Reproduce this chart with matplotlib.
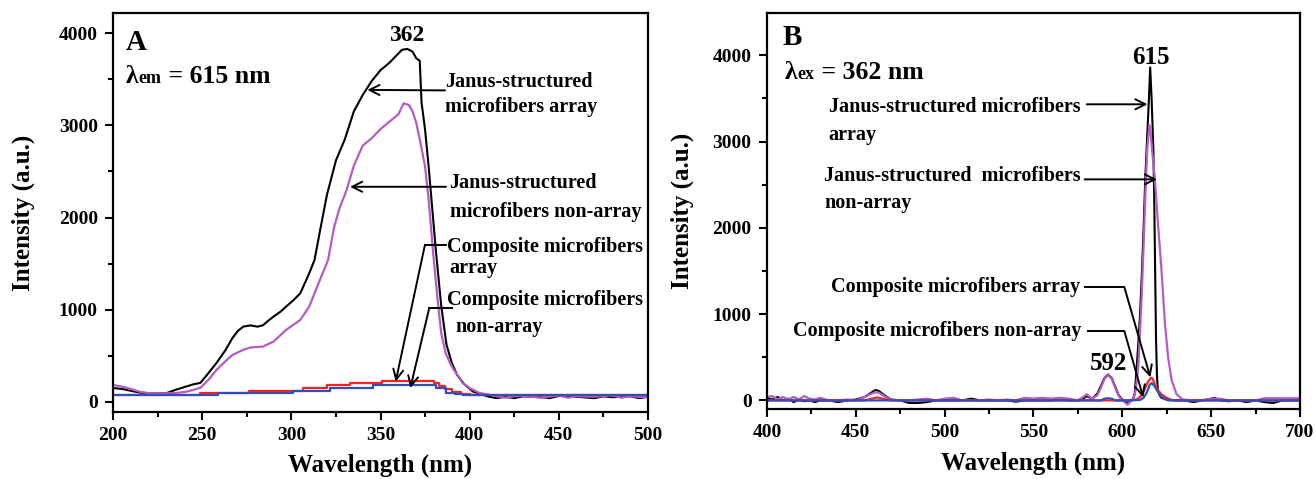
import matplotlib
matplotlib.use("Agg")
import matplotlib.pyplot as plt
from matplotlib.offsetbox import TextArea, HPacker, AnchoredOffsetbox
from matplotlib.ticker import MultipleLocator

# ---------------- Panel A data (excitation, lambda_em = 615 nm) ----------------
a_janus_arr_x = [200, 205, 210, 215, 220, 225, 230, 235, 240, 245, 249, 253, 258, 263, 267, 270, 273,
                 277, 281, 284, 287, 290, 294, 297, 301, 305, 310, 313, 316, 320, 325, 330, 335, 340,
                 345, 350, 355, 360, 362, 365, 368, 370, 372, 373, 375, 377, 379, 381, 384, 387, 390,
                 393, 397, 402, 410, 415, 420, 425, 430, 440, 445, 450, 460, 470, 475, 480, 490, 495, 500]
a_janus_arr_y = [150, 140, 120, 100, 92, 92, 95, 130, 160, 190, 206, 300, 422, 560, 694, 770, 816,
                 830, 816, 830, 880, 925, 980, 1033, 1100, 1178, 1394, 1540, 1850, 2250, 2620, 2850,
                 3150, 3330, 3480, 3600, 3680, 3780, 3820, 3830, 3800, 3730, 3700, 3250, 2950, 2550,
                 2100, 1650, 1050, 620, 420, 290, 190, 110, 60, 40, 55, 40, 60, 50, 40, 65, 55, 40,
                 60, 50, 60, 40, 55]

a_janus_non_x = [200, 205, 210, 215, 220, 225, 230, 235, 241, 245, 249, 254, 258, 263, 267, 273, 277,
                 281, 284, 290, 297, 305, 310, 316, 320.6, 324, 327, 331, 335, 340, 345, 350, 355, 360,
                 363, 366, 368, 370, 372, 375, 377, 379.5, 382, 384, 386.5, 389, 391, 393.5, 396, 400,
                 405, 410, 420, 425, 430, 440, 450, 455, 460, 470, 480, 485, 490, 500]
a_janus_non_y = [184, 165, 140, 110, 95, 92, 93, 95, 110, 130, 152, 250, 347, 440, 510, 564, 590,
                 596, 600, 654, 780, 889, 1033, 1322, 1540, 1900, 2100, 2300, 2560, 2780, 2860, 2960,
                 3040, 3120, 3240, 3220, 3150, 3030, 2850, 2550, 2190, 1620, 1110, 750, 530, 420, 350,
                 280, 205, 150, 100, 80, 45, 60, 65, 45, 70, 45, 60, 55, 70, 45, 60, 50]

a_comp_arr_x = [200, 249, 276, 306.5, 320, 333, 351, 380, 383, 386, 390, 395, 400, 500]
a_comp_arr_y = [75, 94, 119, 152, 180, 206, 228, 200, 170, 140, 105, 80, 72, 72]

a_comp_non_x = [200, 259, 301, 321.7, 345.8, 381, 387, 392, 396, 500]
a_comp_non_y = [75, 94, 119, 152, 184, 150, 100, 80, 72, 72]

# ---------------- Panel B data (emission, lambda_ex = 362 nm) ----------------
b_janus_arr_x = [400, 403, 406, 409, 412, 415, 418, 421, 424, 427, 430, 435, 440, 445, 450, 455, 458,
                 461, 463, 466, 470, 475, 480, 485, 490, 495, 500, 505, 510, 515, 520, 525, 530, 535,
                 540, 545, 550, 555, 560, 565, 570, 575, 578, 580, 583, 586, 588, 590, 592, 594, 596,
                 598, 600, 603, 606, 607, 608, 609, 610, 611, 612, 613, 614, 615, 615.7, 616.5, 617.5,
                 618, 618.5, 619, 619.5, 620, 621, 622, 625, 630, 635, 640, 645, 650, 652, 655, 660,
                 665, 670, 675, 680, 685, 690, 695, 700]
b_janus_arr_y = [30, 10, 40, 0, 20, -20, 10, -10, 0, -20, 0, 0, -20, 0, 10, 40, 80,
                 120, 110, 60, 10, 0, -30, -30, -20, 0, 0, 0, 0, 20, 0, 0, 0, 0,
                 -15, 0, 0, 0, 0, 10, 0, 0, 20, 50, 20, 80, 170, 260, 300, 260, 160,
                 60, 10, -30, 10, 80, 350, 650, 1000, 1450, 2000, 2600, 3050, 3500, 3860, 3500, 2900,
                 2300, 1500, 700, 300, 120, 60, 30, 10, 0, 0, -20, 0, 20, 30, 0, -10,
                 0, -20, 0, -20, -30, 0, 0, 0]

b_janus_non_x = [400, 403, 406, 409, 412, 415, 418, 421, 424, 427, 430, 435, 440, 445, 450, 455, 458,
                 461, 463, 466, 470, 475, 480, 485, 490, 495, 500, 505, 510, 515, 520, 525, 530, 535,
                 540, 545, 550, 555, 560, 565, 570, 575, 578, 580, 583, 586, 588, 590, 592, 594, 596,
                 598, 600, 603, 605, 606, 607, 608, 609, 610, 611, 612, 613, 614, 615.2, 616, 617,
                 618.4, 620.1, 622.2, 624, 625.8, 627.8, 630.6, 634, 640, 645, 650, 652, 655, 660,
                 665, 670, 675, 680, 685, 690, 695, 700]
b_janus_non_y = [40, 50, 10, 40, 10, 40, 10, 50, 20, 10, 30, 0, 0, 10, 0, 40, 70,
                 95, 90, 50, 10, 0, 0, 10, 20, 0, 20, 30, 0, 0, 0, 10, 0, 10,
                 0, 30, 20, 30, 20, 30, 20, 0, 40, 70, 20, 60, 150, 250, 295, 250, 150,
                 50, 0, -50, 0, 20, 60, 200, 400, 800, 1250, 1800, 2400, 2900, 3190, 3100, 2850,
                 2550, 2050, 1470, 890, 500, 230, 70, 10, 0, 0, 20, 20, 20, 0,
                 0, 0, 0, 25, 25, 25, 25, 25]

b_comp_arr_x = [400, 455, 459, 462, 465, 470, 600, 606, 608, 610, 612, 614, 616, 617, 618, 620, 622,
                624, 626, 628, 630, 700]
b_comp_arr_y = [0, 0, 20, 35, 20, 0, 0, 5, 10, 40, 100, 200, 260, 255, 200, 120, 70, 40, 20, 5, 0, 0]

b_comp_non_x = [400, 588, 590, 592, 594, 596, 605, 610, 612, 614, 615.5, 616.5, 618, 620, 622, 624, 626, 700]
b_comp_non_y = [0, 0, 20, 25, 20, 0, 0, 5, 30, 100, 185, 200, 170, 100, 45, 15, 0, 0]

C_BLACK = "#000000"
C_PURPLE = "#b35cc2"
C_RED = "#ff2020"
C_BLUE = "#3050b8"

FONT = "Liberation Serif"
plt.rcParams["font.family"] = [FONT, "DejaVu Serif"]
plt.rcParams["font.weight"] = "bold"

fig = plt.figure(figsize=(13.16, 4.79), dpi=100)
axA = fig.add_axes([0.0859, 0.1399, 0.4065, 0.833])
axB = fig.add_axes([0.5828, 0.1461, 0.405, 0.8267])


def style_axis(ax, xlim, ylim, xmaj, xmin):
    ax.set_xlim(*xlim)
    ax.set_ylim(*ylim)
    ax.xaxis.set_major_locator(MultipleLocator(xmaj))
    ax.xaxis.set_minor_locator(MultipleLocator(xmin))
    ax.yaxis.set_major_locator(MultipleLocator(1000))
    ax.yaxis.set_minor_locator(MultipleLocator(500))
    ax.tick_params(which="both", direction="out", top=False, right=False, width=1.5)
    ax.tick_params(which="major", length=6, labelsize=14, pad=5)
    ax.tick_params(which="minor", length=3.5)
    for s in ax.spines.values():
        s.set_linewidth(1.6)
    for lab in ax.get_xticklabels() + ax.get_yticklabels():
        lab.set_fontweight("bold")
    ax.set_xlabel("Wavelength (nm)", fontsize=18, fontweight="bold")
    ax.set_ylabel("Intensity (a.u.)", fontsize=18, fontweight="bold")


def lam_label(ax, x, y, sub, rest):
    tp_big = dict(fontsize=18.5, fontweight="bold", family=FONT)
    tp_small = dict(fontsize=13, fontweight="bold", family=FONT)
    box = HPacker(children=[TextArea("λ", textprops=tp_big),
                            TextArea(sub, textprops=tp_small),
                            TextArea(rest, textprops=tp_big)],
                  align="baseline", pad=0, sep=0)
    ab = AnchoredOffsetbox(loc="center left", child=box, pad=0, borderpad=0, frameon=False,
                           bbox_to_anchor=(x, y), bbox_transform=ax.transData)
    ax.add_artist(ab)


ARROW = dict(arrowstyle="->", lw=1.4, color="black", mutation_scale=18, shrinkA=0, shrinkB=0)
TXT = dict(fontsize=14.5, fontweight="bold", va="center")

# ---------------- Panel A ----------------
axA.plot(a_janus_arr_x, a_janus_arr_y, color=C_BLACK, lw=1.5)
axA.plot(a_janus_non_x, a_janus_non_y, color=C_PURPLE, lw=1.6)
axA.plot(a_comp_arr_x, a_comp_arr_y, color=C_RED, lw=1.6, drawstyle="steps-post")
axA.plot(a_comp_non_x, a_comp_non_y, color=C_BLUE, lw=1.6, drawstyle="steps-post")
style_axis(axA, (200, 500), (-110, 4220), 50, 25)
axA.yaxis.set_label_coords(-0.145, 0.5)
axA.xaxis.set_label_coords(0.5, -0.105)

axA.text(207.3, 3902, "A", fontsize=21, fontweight="bold", va="center", ha="left")
lam_label(axA, 207.3, 3534, "em", " = 615 nm")
axA.text(364.8, 3978, "362", fontsize=17, fontweight="bold", ha="center", va="center")

axA.text(386.2, 3469, "Janus-structured", **TXT)
axA.text(386.2, 3198, "microfibers array", **TXT)
axA.annotate("", xy=(342.6, 3385), xytext=(386.2, 3380), arrowprops=ARROW)

axA.text(388.7, 2374, "Janus-structured", **TXT)
axA.text(388.7, 2060, "microfibers non-array", **TXT)
axA.annotate("", xy=(332.9, 2334), xytext=(386.7, 2334), arrowprops=ARROW)

axA.text(387.3, 1680, "Composite microfibers", **TXT)
axA.text(388.7, 1453, "array", **TXT)
axA.plot([386.7, 374.9], [1702, 1702], color="black", lw=1.4)
axA.annotate("", xy=(358.5, 220), xytext=(374.9, 1702), arrowprops=ARROW)

axA.text(387.3, 1106, "Composite microfibers", **TXT)
axA.text(391.8, 813, "non-array", **TXT)
axA.plot([390.3, 377.3], [1016, 1016], color="black", lw=1.4)
axA.annotate("", xy=(366.7, 149), xytext=(377.3, 1016), arrowprops=ARROW)

# ---------------- Panel B ----------------
axB.plot(b_janus_arr_x, b_janus_arr_y, color=C_BLACK, lw=1.5)
axB.plot(b_janus_non_x, b_janus_non_y, color=C_PURPLE, lw=1.6)
axB.plot(b_comp_arr_x, b_comp_arr_y, color=C_RED, lw=1.6)
axB.plot(b_comp_non_x, b_comp_non_y, color=C_BLUE, lw=1.6)
style_axis(axB, (400, 700), (-100, 4490), 50, 25)
axB.yaxis.set_label_coords(-0.137, 0.5)
axB.xaxis.set_label_coords(0.5, -0.108)

axB.text(409, 4209, "B", fontsize=21, fontweight="bold", va="center", ha="left")
lam_label(axB, 410.1, 3803, "ex", " = 362 nm")
axB.text(616.3, 3975, "615", fontsize=18, fontweight="bold", ha="center", va="center")
axB.text(592.5, 430, "592", fontsize=18, fontweight="bold", ha="center", va="center")

axB.text(434.7, 3397, "Janus-structured microfibers", **TXT)
axB.text(434.7, 3072, "array", **TXT)
axB.annotate("", xy=(614.2, 3432), xytext=(580.0, 3432), arrowprops=ARROW)

axB.text(432.3, 2597, "Janus-structured  microfibers", **TXT)
axB.text(432.3, 2284, "non-array", **TXT)
axB.annotate("", xy=(619.5, 2562), xytext=(578.8, 2562), arrowprops=ARROW)

axB.text(436.3, 1310, "Composite microfibers array", **TXT)
axB.plot([578.8, 601.2], [1310, 1310], color="black", lw=1.4)
axB.annotate("", xy=(615.8, 267), xytext=(601.2, 1310), arrowprops=ARROW)

axB.text(414.6, 800, "Composite microfibers non-array", **TXT)
axB.plot([580.5, 601.2], [800, 800], color="black", lw=1.4)
axB.annotate("", xy=(611.8, 35), xytext=(601.2, 800), arrowprops=ARROW)

fig.savefig("out.png", dpi=100)
